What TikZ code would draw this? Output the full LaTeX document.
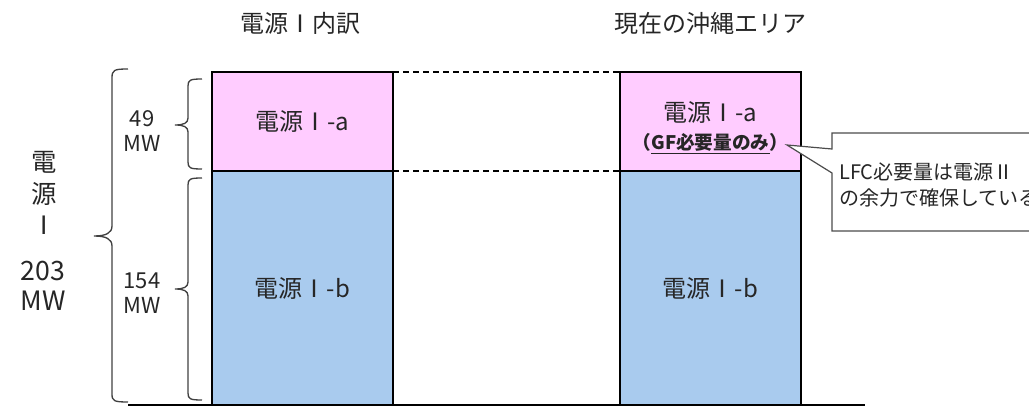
\documentclass[tikz,border=0pt]{standalone}
\usepackage{fontspec}
\setmainfont{Noto Sans CJK JP}
\usetikzlibrary{positioning}
\definecolor{pinkbox}{HTML}{FFCCFF}
\definecolor{bluebox}{HTML}{A9CBEE}
\definecolor{txt}{HTML}{262626}
\begin{document}
\begin{tikzpicture}[x=0.75pt, y=-0.75pt,
	col/.style={draw=black, line width=1.5pt, minimum width=135.75pt, inner sep=0pt, outer sep=0pt, text=txt, font=\fontsize{18}{22}\selectfont},
	brace/.style={draw=black!75, line width=1pt},
	lab/.style={text=txt, align=center, inner sep=0pt}]
	\useasboundingbox (0,0) rectangle (1029,406);
	\node[lab, font=\fontsize{18}{22}\selectfont] (head1) at (300,23) {電源Ⅰ内訳};
	\node[lab, font=\fontsize{18}{22}\selectfont] (head2) at (710,23) {現在の沖縄エリア};
	\node[col, fill=pinkbox, minimum height=74.25pt] (la) at (302.5,121.5) {電源Ⅰ-a};
	\node[col, fill=bluebox, minimum height=175.5pt, below=0pt of la] (lb) {電源Ⅰ-b};
	\node[col, fill=pinkbox, minimum height=74.25pt, right=170.25pt of la, align=center] (ra) {\rule{0pt}{25pt}電源Ⅰ-a\\[-1pt]{\fontsize{14}{14}\selectfont\bfseries （\underline{GF必要量のみ}）}};
	\node[col, fill=bluebox, minimum height=175.5pt, below=0pt of ra] (rb) {電源Ⅰ-b};
	\draw[line width=1.1pt, dash pattern=on 4.5pt off 3pt] (la.north east) -- (ra.north west);
	\draw[line width=1.1pt, dash pattern=on 4.5pt off 3pt] (la.south east) -- (ra.south west);
	\draw[line width=1.2pt] (128,405) -- (865,405);
	% braces
	\draw[brace] (128,69) .. controls (114,69) and (112,70) .. (112,78) -- (112,226) .. controls (112,233) and (106,236) .. (94,236) .. controls (106,236) and (112,239) .. (112,246) -- (112,394) .. controls (112,401) and (114,402) .. (128,402);
	\draw[brace] (202,79) .. controls (190,79) and (188,80) .. (188,86) -- (188,118) .. controls (188,123) and (184,125) .. (175,125) .. controls (184,125) and (188,127) .. (188,132) -- (188,162) .. controls (188,168) and (190,169) .. (202,169);
	\draw[brace] (202,178) .. controls (190,178) and (188,179) .. (188,185) -- (188,282) .. controls (188,287) and (184,289) .. (175,289) .. controls (184,289) and (188,291) .. (188,296) -- (188,393) .. controls (188,399) and (190,400) .. (202,400);
	\node[lab, font=\fontsize{16.5}{19}\selectfont] (mwa) at (142,131) {49\\MW};
	\node[lab, font=\fontsize{16.5}{19}\selectfont] (mwb) at (142,293) {154\\MW};
	\node[lab, font=\fontsize{19}{23.6}\selectfont] (kind) at (44,193) {電\\源\\Ⅰ};
	\node[lab, font=\fontsize{20}{22.5}\selectfont] (total) at (43,286) {203\\MW};
	% callout
	\coordinate (tip) at (787,145);
	\draw[draw=black!70, line width=0.9pt, fill=white] (832,133) -- (832,149) -- (tip) -- (832,173) -- (832,231) -- (1060,231) -- (1060,133) -- cycle;
	\node[lab, anchor=west, align=left, font=\fontsize{15}{19.5}\selectfont] (note) at (839,185) {LFC必要量は電源Ⅱ\\の余力で確保している};
\end{tikzpicture}
\end{document}
